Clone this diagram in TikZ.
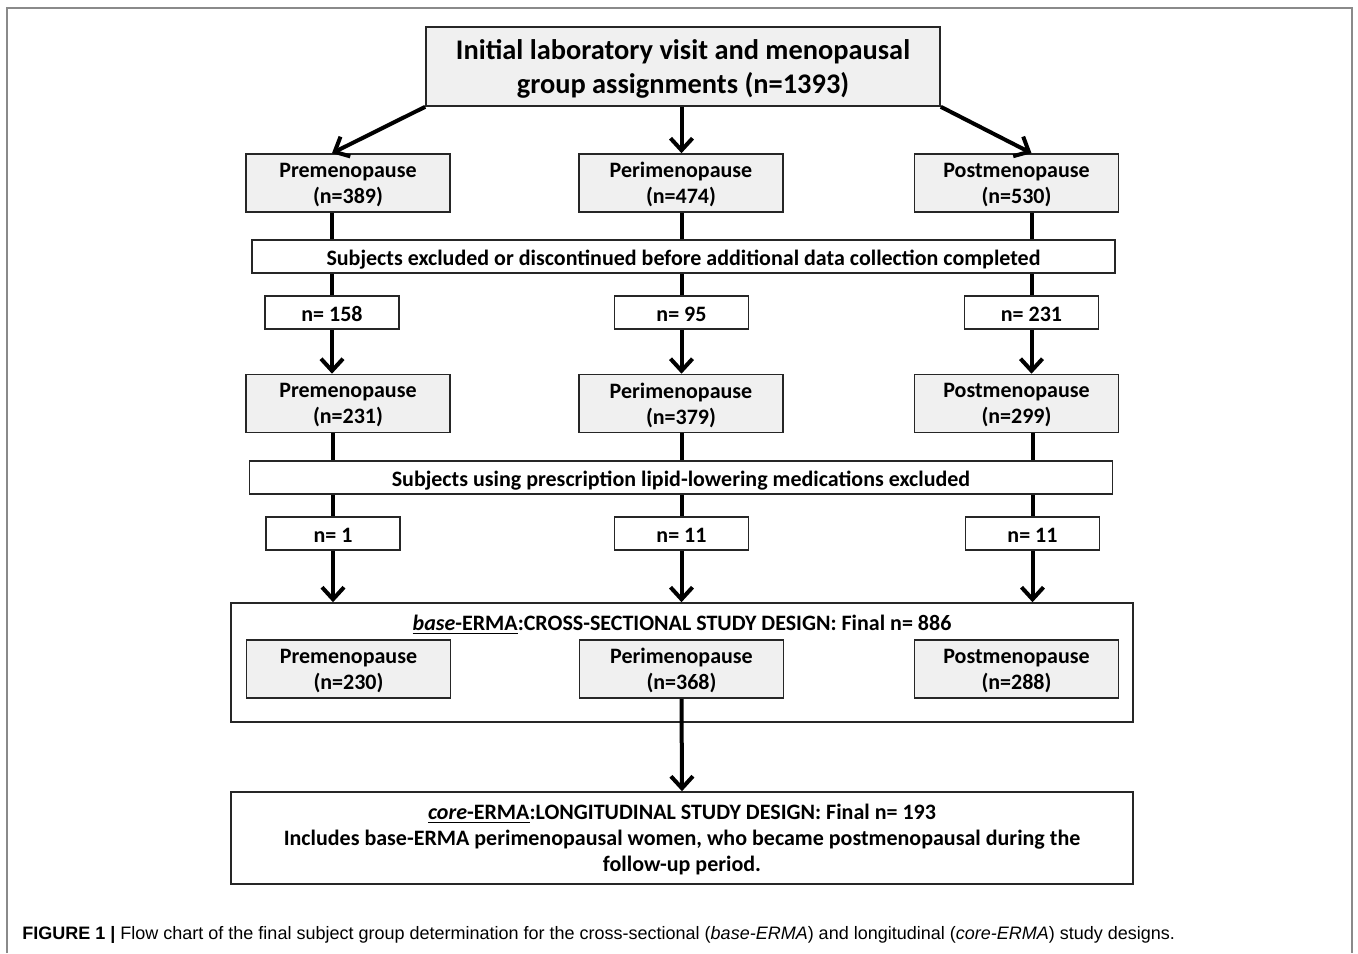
\documentclass[tikz,border=0pt]{standalone}
\usepackage{fontspec}
\setmainfont{Carlito}
\newfontfamily\capfont{Liberation Sans}
\usetikzlibrary{%
  positioning
 ,arrows.meta
 ,calc
}
\definecolor{boxgray}{HTML}{F0F0F0}
\definecolor{framegray}{HTML}{8A8A8A}
\tikzstyle{grp}=[rectangle,draw=black!85,line width=0.8pt,fill=boxgray,align=center,minimum width=102pt,minimum height=29pt,inner sep=0pt,text depth=0pt,font=\fontsize{11}{13}\selectfont\bfseries]
\tikzstyle{cnt}=[grp,fill=white,minimum width=67pt,minimum height=16.5pt,text height=10.8pt,text depth=1.8pt]
\tikzstyle{excl}=[cnt,minimum width=431.5pt]
\tikzstyle{design}=[grp,fill=white,minimum width=451pt]
\tikzstyle{flow}=[line width=2pt,-{Straight Barb[length=6pt,width=11pt]}]
\tikzstyle{link}=[line width=2pt]

\begin{document}
\begin{tikzpicture}[x=0.5pt,y=-0.5pt]
      \useasboundingbox (0,0) rectangle (1358,953);
      \draw[framegray,line width=1pt] (7,953) -- (7,8) -- (1352,8) -- (1352,953);
      \node[grp,minimum width=257pt,minimum height=39.5pt,font=\fontsize{14.2}{17}\selectfont\bfseries] (init) at (683,66.5) {Initial laboratory visit and menopausal\\group assignments (n=1393)};
      % first assignment
      \node[grp] (pre1)  at (348,183)    {Premenopause\\(n=389)};
      \node[grp] (peri1) at (681,183)    {Perimenopause\\(n=474)};
      \node[grp] (post1) at (1016.5,183) {Postmenopause\\(n=530)};
      \node[excl] (drop) at (683.5,256.5) {Subjects excluded or discontinued before additional data collection completed};
      \node[cnt] (pre1n)  at (332,312.5)    {n= 158};
      \node[cnt] (peri1n) at (681.5,312.5)  {n= 95};
      \node[cnt] (post1n) at (1031.5,312.5) {n= 231};
      % after data collection
      \node[grp] (pre2)  at (348,403.5)    {Premenopause\\(n=231)};
      \node[grp] (peri2) at (681,403.5)    {Perimenopause\\(n=379)};
      \node[grp] (post2) at (1016.5,403.5) {Postmenopause\\(n=299)};
      \node[excl] (lipid) at (681,477.5) {Subjects using prescription lipid-lowering medications excluded};
      \node[cnt] (pre2n)  at (333,533.5)    {n= 1};
      \node[cnt] (peri2n) at (681.5,533.5)  {n= 11};
      \node[cnt] (post2n) at (1032.5,533.5) {n= 11};
      % study designs
      \node[design,minimum height=59.5pt] (base) at (682,662.5) {};
      \node[font=\fontsize{11}{13}\selectfont\bfseries,text height=10.8pt,text depth=1.8pt] (basettl) at (682,621) {\underline{\textit{base}-ERMA}:CROSS-SECTIONAL STUDY DESIGN: Final n= 886};
      \node[grp] (pre3)  at (348.5,669)  {Premenopause\\(n=230)};
      \node[grp] (peri3) at (681.5,669)  {Perimenopause\\(n=368)};
      \node[grp] (post3) at (1016.5,669) {Postmenopause\\(n=288)};
      \node[design,minimum height=46pt] (core) at (682,838) {\underline{\textit{core}-ERMA}:LONGITUDINAL STUDY DESIGN: Final n= 193\\Includes base-ERMA perimenopausal women, who became postmenopausal during the\\follow-up period.};
      \draw[flow] (init.south west) -- (pre1n |- pre1.north);
      \draw[flow] (init.south -| peri1n) -- (peri1n |- peri1.north);
      \draw[flow] (init.south east) -- (post1n |- post1.north);
      \foreach \g in {pre,peri,post}{
        \draw[link] (\g1n |- \g1.south) -- (\g1n |- drop.north);
        \draw[link] (\g1n |- drop.south) -- (\g1n.north);
        \draw[flow] (\g1n.south) -- (\g1n |- \g2.north);
        \draw[link] (\g2n |- \g2.south) -- (\g2n |- lipid.north);
        \draw[link] (\g2n |- lipid.south) -- (\g2n.north);
        \draw[flow] (\g2n.south) -- (\g2n |- base.north);
      }
      \draw[flow] (peri3.south) -- (core.north);
      \node[anchor=west,inner sep=0pt,font=\capfont\fontsize{9}{11}\selectfont] (cap) at (22,935) {\textbf{FIGURE 1 |} Flow chart of the final subject group determination for the cross-sectional (\textit{base-ERMA}) and longitudinal (\textit{core-ERMA}) study designs.};
    \end{tikzpicture}
\end{document}
